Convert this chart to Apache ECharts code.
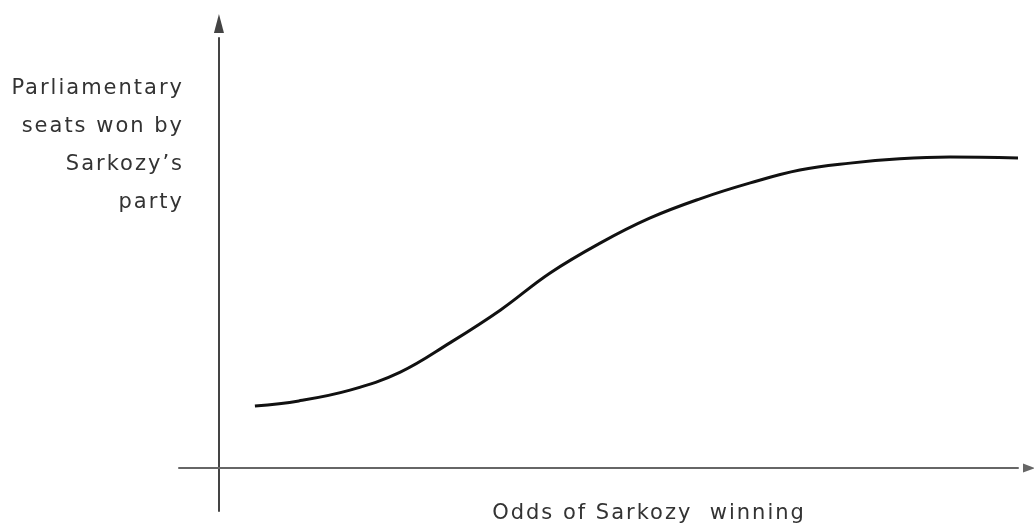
<!DOCTYPE html>
<html>
<head>
<meta charset="utf-8">
<script src="https://cdn.jsdelivr.net/npm/echarts@6/dist/echarts.min.js"></script>
<style>
html,body{margin:0;padding:0;background:#fff;}
#chart{width:1034px;height:531px;}
</style>
</head>
<body>
<div id="chart"></div>
<script>
// Odds of Sarkozy winning (x, relative units 0-100)
const oddsX = [4.5, 10, 16.4, 22.7, 28.9, 35.2, 41.4, 47.7, 53.9, 60.2, 66.5, 72.7, 79, 85.2, 91.5, 100];
// Parliamentary seats won by Sarkozy's party (y, relative units 0-100)
const seatsY = [14.4, 15.6, 18.1, 22.3, 29.1, 36.7, 45.3, 52.3, 58.1, 62.6, 66.3, 69.3, 70.9, 71.9, 72.3, 72.1];
const yTitle = "Parliamentary\nseats won by\nSarkozy\u2019s\nparty";
const xTitle = "Odds of Sarkozy  winning";

// widen letter spacing of the (geometric, widely tracked) labels
(function () {
  const P = CanvasRenderingContext2D.prototype;
  const origFill = P.fillText;
  P.fillText = function () { if ('letterSpacing' in this) this.letterSpacing = '2px'; return origFill.apply(this, arguments); };
})();

const chart = echarts.init(document.getElementById('chart'));
chart.setOption({
  backgroundColor: '#ffffff',
  animation: false,
  grid: {left: 179, right: 16, top: 38, bottom: 20},
  xAxis: {
    type: 'value', min: -5, max: 100,
    axisLine: {onZero: true, lineStyle: {color: '#666', width: 2},
      symbol: ['none', 'triangle'], symbolSize: [9, 12], symbolOffset: [0, 11]},
    axisTick: {show: false}, axisLabel: {show: false}, splitLine: {show: false}
  },
  yAxis: {
    type: 'value', min: -10, max: 100,
    axisLine: {onZero: true, lineStyle: {color: '#444', width: 2},
      symbol: ['none', 'triangle'], symbolSize: [10, 19], symbolOffset: [0, 14.5]},
    axisTick: {show: false}, axisLabel: {show: false}, splitLine: {show: false}
  },
  series: [{
    type: 'line',
    data: oddsX.map((x, i) => [x, seatsY[i]]),
    smooth: 0.4,
    showSymbol: false,
    lineStyle: {color: '#111', width: 3}
  }],
  graphic: [
    {type: 'text', x: 184, y: 70,
      style: {text: yTitle, fill: '#333', font: '21px "DejaVu Sans"', align: 'right', lineHeight: 38, verticalAlign: 'top'}},
    {type: 'text', x: 649, y: 514,
      style: {text: xTitle, fill: '#333', font: '21px "DejaVu Sans"', align: 'center', verticalAlign: 'middle'}}
  ]
});
</script>
</body>
</html>
